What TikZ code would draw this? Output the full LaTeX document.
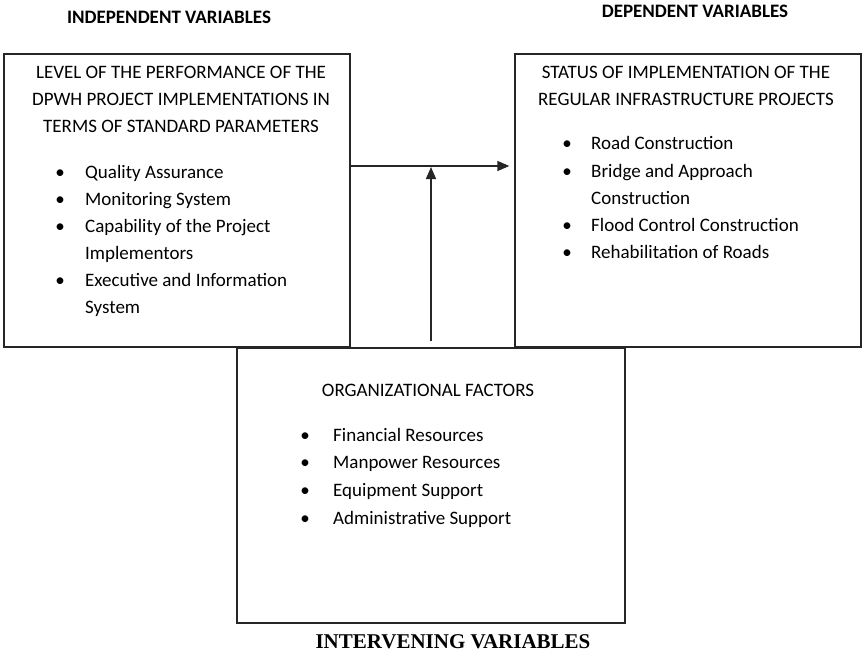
\documentclass[tikz,border=0pt]{standalone}
\usepackage{fontspec}
\setmainfont{Carlito}
\newfontfamily\captionserif{Liberation Serif}
\usetikzlibrary{arrows.meta}
\newcommand{\bodysize}{\fontsize{19pt}{27pt}\selectfont}
\begin{document}
\begin{tikzpicture}[x=1pt,y=-1pt,
  frame/.style={draw=black!85, line width=1.3pt, inner sep=0pt},
  head/.style={inner sep=0pt, font=\bodysize\bfseries},
  title/.style={anchor=base, inner sep=0pt, font=\bodysize},
  item/.style={anchor=base west, inner sep=0pt, font=\bodysize},
  dot/.style={anchor=base, inner sep=0pt, font=\bodysize},
  link/.style={line width=1.5pt, draw=black!85, -{Triangle[length=12pt,width=10pt]}}]
\useasboundingbox (0,0) rectangle (862,654);

% column headings
\node[head] (indephead) at (169,17) {INDEPENDENT VARIABLES};
\node[head] (dephead) at (695,11) {DEPENDENT VARIABLES};

% the three boxes
\node[frame, minimum width=346pt, minimum height=293pt] (indep) at (177,200.5) {};
\node[frame, minimum width=346pt, minimum height=293pt] (dep) at (688,200.5) {};
\node[frame, minimum width=388pt, minimum height=275pt] (org) at (431,485.5) {};

% independent variables
\node[title] (it1) at (181,78) {LEVEL OF THE PERFORMANCE OF THE};
\node[title] (it2) at (181,105) {DPWH PROJECT IMPLEMENTATIONS IN};
\node[title] (it3) at (181,132) {TERMS OF STANDARD PARAMETERS};
\foreach \n/\y in {1/178,2/205,3/232,4/286}
  \node[dot] (ib\n) at (60,\y) {•};
\node[item] (ii1) at (85,178) {Quality Assurance};
\node[item] (ii2) at (85,205) {Monitoring System};
\node[item] (ii3) at (85,232) {Capability of the Project};
\node[item] (ii3b) at (85,259) {Implementors};
\node[item] (ii4) at (85,286) {Executive and Information};
\node[item] (ii4b) at (85,313) {System};

% dependent variables
\node[title] (dt1) at (686,78) {STATUS OF IMPLEMENTATION OF THE};
\node[title] (dt2) at (686,105) {REGULAR INFRASTRUCTURE PROJECTS};
\foreach \n/\y in {1/149,2/177,3/231,4/258}
  \node[dot] (db\n) at (567,\y) {•};
\node[item] (di1) at (591,149) {Road Construction};
\node[item] (di2) at (591,177) {Bridge and Approach};
\node[item] (di2b) at (591,204) {Construction};
\node[item] (di3) at (591,231) {Flood Control Construction};
\node[item] (di4) at (591,258) {Rehabilitation of Roads};

% intervening variables
\node[title] (ot) at (428,396) {ORGANIZATIONAL FACTORS};
\foreach \n/\y in {1/441,2/468,3/496,4/524}
  \node[dot] (ob\n) at (305,\y) {•};
\node[item] (oi1) at (333,441) {Financial Resources};
\node[item] (oi2) at (333,468) {Manpower Resources};
\node[item] (oi3) at (333,496) {Equipment Support};
\node[item] (oi4) at (333,524) {Administrative Support};

\node[inner sep=0pt, font=\captionserif\fontsize{21pt}{25pt}\selectfont\bfseries] (orgcap) at (453,642) {INTERVENING VARIABLES};

% connectors
\coordinate (join) at (431,166);
\draw[link, shorten >=5pt] (join -| indep.east) -- (join -| dep.west);
\draw[link, shorten <=6pt, shorten >=1pt] (org.north -| join) -- (join);
\end{tikzpicture}
\end{document}
